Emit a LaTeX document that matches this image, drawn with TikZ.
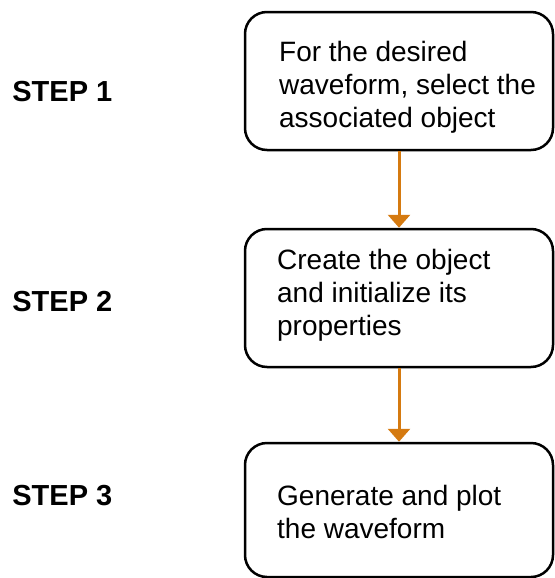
\documentclass[tikz,border=0pt]{standalone}
\usepackage{fontspec}
\setmainfont{Liberation Sans}
\usetikzlibrary{arrows.meta,positioning}
\definecolor{steporange}{RGB}{213,122,16}

\tikzset{
    stepbox/.style={draw, line width=1.25pt, rounded corners=11pt, minimum width=154pt, minimum height=69pt},
    steptext/.style={align=left, font=\fontsize{14}{16.5}\selectfont, inner sep=0pt},
    steplabel/.style={font=\fontsize{14.5}{17}\selectfont\bfseries, inner sep=0pt},
    steparrow/.style={draw=steporange, line width=1.5pt, -{Triangle[width=11pt,length=6.5pt]}}
}

\begin{document}
\begin{tikzpicture}[x=0.5pt, y=-0.5pt]
    \useasboundingbox (0,0) rectangle (555,578);
    % Boxes
    \node[stepbox] (Box-1) at (399, 81) {};
    \node[stepbox] (Box-2) at (399, 298) {};
    \node[stepbox, minimum height=67pt] (Box-3) at (399, 510) {};
    % Box texts
    \node[steptext, anchor=west] (Text-1) at ([xshift=17.5pt, yshift=-3pt]Box-1.west) {For the desired\\waveform, select the\\associated object};
    \node[steptext, anchor=west] (Text-2) at ([xshift=16.5pt, yshift=1.5pt]Box-2.west) {Create the object\\and initialize its\\properties};
    \node[steptext, anchor=west] (Text-3) at ([xshift=16.5pt, yshift=-1pt]Box-3.west) {Generate and plot\\the waveform};
    % Step labels
    \node[steplabel, anchor=west] (Step-1) at (12, 92) {STEP 1};
    \node[steplabel, anchor=west] (Step-2) at (12, 302) {STEP 2};
    \node[steplabel, anchor=west] (Step-3) at (12, 496) {STEP 3};

    % Connect boxes
    \foreach \i/\j in {1/2, 2/3} {
            \draw[steparrow] (Box-\i) -- (Box-\j);
        }
\end{tikzpicture}
\end{document}
